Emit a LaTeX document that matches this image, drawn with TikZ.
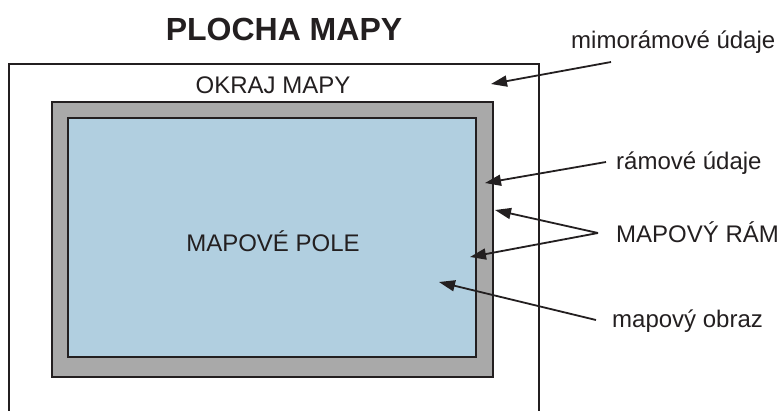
\documentclass[tikz,border=0pt]{standalone}
\usepackage{fontspec}
\setmainfont{Liberation Sans}
\usetikzlibrary{arrows.meta}
\definecolor{inkline}{HTML}{231F20}
\definecolor{framegray}{HTML}{A9A9A9}
\definecolor{fieldblue}{HTML}{B1CFE0}
\tikzset{
  boxline/.style={draw=inkline, line width=2.2pt},
  lbl/.style={font=\fontsize{24}{27}\selectfont, text=inkline, inner sep=0pt},
  pointer/.style={draw=inkline, line width=1.8pt, -{Triangle[length=16pt,width=11pt]}}
}
\begin{document}
\begin{tikzpicture}[x=1pt,y=-1pt]
\useasboundingbox (0,0) rectangle (779,410);
% outer margin (open at the bottom)
\draw[boxline, line width=2pt] (8.5,420) -- (8.5,64) -- (538.5,64) -- (538.5,420);
\node[inner sep=0pt] (outer) at (273,64) {};
% frame and map field
\path[boxline, fill=framegray] (52,102) rectangle (493,377);
\node[inner sep=0pt] (frame) at (272.5,239.5) {};
\path[boxline, fill=fieldblue] (68,118) rectangle (476,357);
\node[inner sep=0pt] (field) at (272,237.5) {};
% texts
\node[font=\bfseries\fontsize{32}{36}\selectfont, text=inkline, inner sep=0pt, anchor=base] (title) at (284,40) {PLOCHA MAPY};
\node[lbl, anchor=base] (okraj) at (273,93) {OKRAJ MAPY};
\node[lbl, anchor=base] (pole) at (273,251) {MAPOVÉ POLE};
\node[lbl, anchor=base west] (mimo) at (571,48) {mimorámové údaje};
\node[lbl, anchor=base west] (ramove) at (616,169) {rámové údaje};
\node[lbl, anchor=base west] (ram) at (616,242) {MAPOVÝ RÁM};
\node[lbl, anchor=base west] (obraz) at (612,327) {mapový obraz};
% connector ends
\coordinate (mimoS) at (611,62);
\coordinate (mimoT) at (491,84);
\coordinate (ramoveS) at (606,162);
\coordinate (ramoveT) at (485,183);
\coordinate (ramS) at (598,233);
\coordinate (ramT1) at (495,210);
\coordinate (ramT2) at (470,257);
\coordinate (obrazS) at (596,320);
\coordinate (obrazT) at (439,282);
\draw[pointer] (mimoS) -- (mimoT);
\draw[pointer] (ramoveS) -- (ramoveT);
\draw[pointer] (ramS) -- (ramT1);
\draw[pointer] (ramS) -- (ramT2);
\draw[pointer] (obrazS) -- (obrazT);
\end{tikzpicture}
\end{document}
